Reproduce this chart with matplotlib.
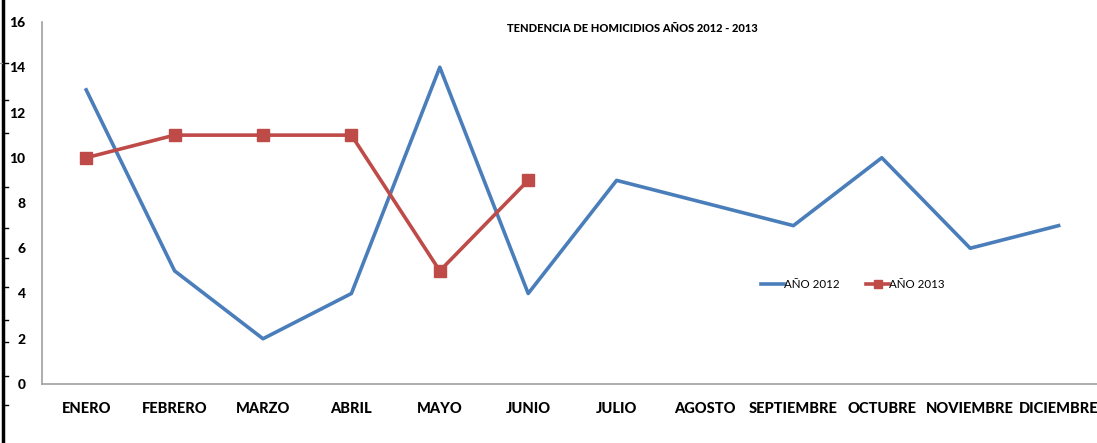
import matplotlib
matplotlib.use("Agg")
import matplotlib.pyplot as plt
from matplotlib.lines import Line2D

months = ["ENERO", "FEBRERO", "MARZO", "ABRIL", "MAYO", "JUNIO", "JULIO",
          "AGOSTO", "SEPTIEMBRE", "OCTUBRE", "NOVIEMBRE", "DICIEMBRE"]
y2012 = [13, 5, 2, 4, 14, 4, 9, 8, 7, 10, 6, 7]
y2013 = [10, 11, 11, 11, 5, 9]
yticks = [0, 2, 4, 6, 8, 10, 12, 14, 16]

W, H = 1097, 443
fig = plt.figure(figsize=(W/100, H/100), dpi=100)
plt.rcParams['font.family'] = ['Lato', 'DejaVu Sans']

left = 42/W
right_px = 42 + 12*88.4
bottom = 1 - 384/H
top = 1 - 22/H
ax = fig.add_axes([left, bottom, (right_px-42)/W, top-bottom])

x = list(range(len(months)))
ax.plot(x, y2012, color="#4A7EBB", lw=2.6, label="AÑO 2012")
ax.plot(x[:len(y2013)], y2013, color="#BE4B48", lw=2.6, marker="s", ms=8, label="AÑO 2013")

ax.set_xlim(-0.5, len(months)-0.5)
ax.set_ylim(0, 16)
ax.set_yticks(yticks)
ax.set_yticklabels([str(v) for v in yticks], fontweight="black", fontsize=10)
ax.set_xticks(x)
ax.set_xticklabels(months, fontweight="black", fontsize=10.5)
ax.tick_params(axis="both", length=0)
ax.tick_params(axis="y", pad=12)
ax.tick_params(axis="x", pad=13)
for s in ["top", "right"]:
    ax.spines[s].set_visible(False)
for s in ["left", "bottom"]:
    ax.spines[s].set_color("#A0A0A0")
    ax.spines[s].set_linewidth(1.2)

fig.text(632/W, 1-29/H, "TENDENCIA DE HOMICIDIOS AÑOS 2012 - 2013",
         ha="center", va="center", fontsize=8, fontweight="black")

leg = ax.legend(loc="center", bbox_to_anchor=(853/W, 1-285/H),
                bbox_transform=fig.transFigure, ncol=2, frameon=False,
                fontsize=8.3, handlelength=2.0, handletextpad=0.0,
                columnspacing=2.3, markerscale=0.8)

# spreadsheet border on the left
fig.add_artist(Line2D([3/W, 3/W], [0, 1], color="black", lw=2.5, transform=fig.transFigure))
fig.add_artist(Line2D([0, 3/W], [1-63/H, 1-63/H], color="#999999", lw=0.8, transform=fig.transFigure))
for yy in [63, 100, 133, 187, 228, 258, 287, 320, 342, 376, 405]:
    fig.add_artist(Line2D([3/W, 8/W], [1-yy/H, 1-yy/H], color="black", lw=1.0, transform=fig.transFigure))

fig.savefig("out.png", dpi=100)
